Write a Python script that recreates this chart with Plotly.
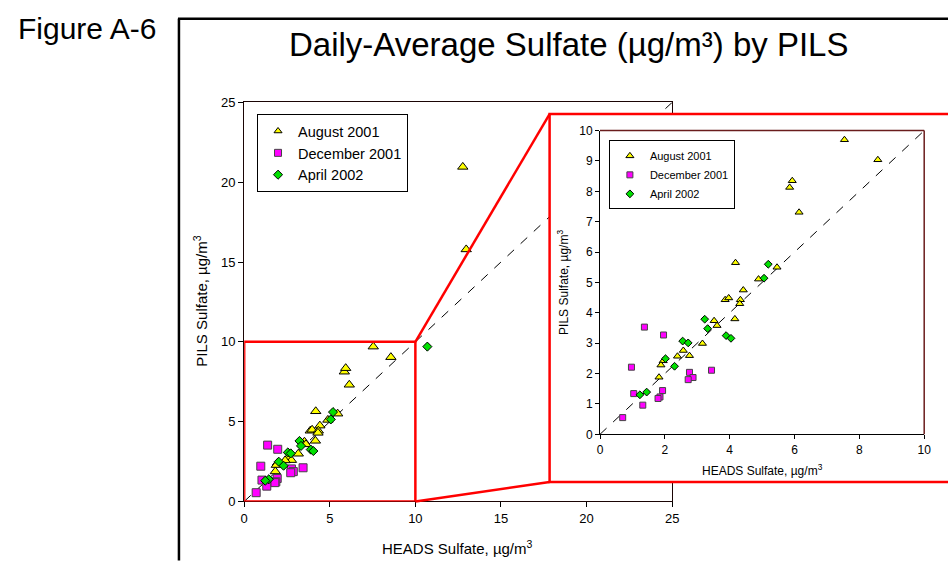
import plotly.graph_objects as go

# ---------------- data ----------------
series_names = ["August 2001", "December 2001", "April 2002"]

aug_x = [7.54, 8.57, 5.85, 5.93, 6.14, 4.18, 5.46, 4.89, 4.42, 3.86, 3.97, 4.33, 4.31,
         4.16, 3.52, 3.61, 3.16, 2.57, 2.76, 2.39, 1.95, 1.88, 1.82, 12.77, 12.97]
aug_y = [9.70, 9.04, 8.13, 8.35, 7.31, 5.65, 5.50, 5.11, 4.75, 4.43, 4.49, 4.43, 4.30,
         3.80, 3.74, 3.58, 2.99, 2.76, 2.59, 2.57, 2.42, 2.28, 1.88, 20.96, 15.79]

dec_x = [1.37, 1.96, 0.97, 2.76, 3.44, 2.87, 2.72, 1.04, 1.93, 1.85, 1.79, 1.32, 0.70]
dec_y = [3.53, 3.27, 2.21, 2.04, 2.11, 1.87, 1.80, 1.34, 1.44, 1.23, 1.18, 0.96, 0.55]

apr_x = [3.23, 3.32, 2.55, 2.72, 3.89, 4.04, 5.19, 5.06, 2.02, 2.30, 1.44, 1.23, 10.70]
apr_y = [3.79, 3.48, 3.07, 3.01, 3.25, 3.16, 5.60, 5.14, 2.49, 2.24, 1.39, 1.30, 9.70]

main_range = [0, 25]
main_ticks = [0, 5, 10, 15, 20, 25]
zoom_range = [0, 10]
inset_xticks = [0, 2, 4, 6, 8, 10]
inset_yticks = list(range(0, 11))

fig_title = "Daily-Average Sulfate (\u00b5g/m\u00b3) by PILS"
fig_label = "Figure A-6"
x_title = "HEADS Sulfate, \u00b5g/m<sup>3</sup>"
y_title = "PILS Sulfate, \u00b5g/m<sup>3</sup>"

# ---------------- layout geometry ----------------
W, H = 948, 563
FONT = "Arial, Liberation Sans, sans-serif"


def px(v):
    return v / W


def py(v):
    return 1 - v / H


main_dom_x = [px(243), px(676)]
main_dom_y = [py(508), py(98)]
inset_dom_x = [px(603), px(931)]
inset_dom_y = [py(439), py(127)]
cover_dom_x = [px(552), 1.0]
cover_dom_y = [py(488), py(110)]


def main_to_paper(x, y):
    fx = (x - main_range[0]) / (main_range[1] - main_range[0])
    fy = (y - main_range[0]) / (main_range[1] - main_range[0])
    return (main_dom_x[0] + fx * (main_dom_x[1] - main_dom_x[0]),
            main_dom_y[0] + fy * (main_dom_y[1] - main_dom_y[0]))


styles = [
    dict(symbol="triangle-up", color="#FFFF00", line=dict(color="#000000", width=1)),
    dict(symbol="square", color="#FF00FF", line=dict(color="#444444", width=1)),
    dict(symbol="diamond", color="#00E000", line=dict(color="#000000", width=1)),
]
main_sizes = [9, 8, 7]
inset_sizes = [7, 6, 6]
legend_sizes_main = [7, 7, 7]

data_sets = [(aug_x, aug_y), (dec_x, dec_y), (apr_x, apr_y)]

fig = go.Figure()

# ----- main plot -----
fig.add_trace(go.Scatter(x=main_range, y=main_range, mode="lines",
                         line=dict(color="#000000", width=1, dash="dash"),
                         showlegend=False, hoverinfo="skip", xaxis="x", yaxis="y"))
for (xs, ys), st, sz, nm in zip(data_sets, styles, main_sizes, series_names):
    fig.add_trace(go.Scatter(x=xs, y=ys, mode="markers", name=nm,
                             marker=dict(symbol=st["symbol"], color=st["color"], size=sz,
                                         line=st["line"]),
                             showlegend=False, xaxis="x", yaxis="y"))
# legend entries for main legend (small symbols)
for st, sz, nm in zip(styles, legend_sizes_main, series_names):
    fig.add_trace(go.Scatter(x=[None], y=[None], mode="markers", name=nm,
                             marker=dict(symbol=st["symbol"], color=st["color"], size=sz,
                                         line=st["line"]),
                             legend="legend", xaxis="x", yaxis="y"))

# ----- white cover behind the inset -----
fig.add_trace(go.Scatter(x=[], y=[], mode="markers", showlegend=False,
                         hoverinfo="skip", xaxis="x2", yaxis="y2"))

# ----- inset plot -----
fig.add_trace(go.Scatter(x=zoom_range, y=zoom_range, mode="lines",
                         line=dict(color="#000000", width=1, dash="dash"),
                         showlegend=False, hoverinfo="skip", xaxis="x3", yaxis="y3"))
for (xs, ys), st, sz, nm in zip(data_sets, styles, inset_sizes, series_names):
    fig.add_trace(go.Scatter(x=xs, y=ys, mode="markers", name=nm,
                             marker=dict(symbol=st["symbol"], color=st["color"], size=sz,
                                         line=st["line"]),
                             legend="legend2", xaxis="x3", yaxis="y3"))

axis_common = dict(showgrid=False, zeroline=False, showline=True, ticks="outside",
                   tickcolor="#000000", fixedrange=True)

fig.update_layout(
    width=W, height=H, autosize=False,
    margin=dict(l=0, r=0, t=0, b=0, pad=0),
    paper_bgcolor="#ffffff", plot_bgcolor="#ffffff",
    font=dict(family=FONT, color="#000000"),
    showlegend=True,
    xaxis=dict(domain=main_dom_x, range=main_range, tickvals=main_ticks,
               linecolor="#1a0505", linewidth=1, mirror=True, ticklen=5,
               tickfont=dict(size=13), anchor="y", **axis_common),
    yaxis=dict(domain=main_dom_y, range=main_range, tickvals=main_ticks,
               linecolor="#1a0505", linewidth=1, mirror=True, ticklen=5,
               tickfont=dict(size=13), anchor="x", **axis_common),
    xaxis2=dict(domain=cover_dom_x, range=[0, 1], visible=False, anchor="y2", fixedrange=True),
    yaxis2=dict(domain=cover_dom_y, range=[0, 1], visible=False, anchor="x2", fixedrange=True),
    xaxis3=dict(domain=inset_dom_x, range=zoom_range, tickvals=inset_xticks,
                linecolor="#000000", linewidth=1, ticklen=4,
                tickfont=dict(size=12), anchor="y3", **axis_common),
    yaxis3=dict(domain=inset_dom_y, range=zoom_range, tickvals=inset_yticks,
                linecolor="#000000", linewidth=1, ticklen=4,
                tickfont=dict(size=12), anchor="x3", **axis_common),
    legend=dict(x=px(256), y=py(110), xanchor="left", yanchor="top",
                bgcolor="#ffffff", bordercolor="#000000", borderwidth=1,
                font=dict(size=14.5), itemwidth=30, tracegroupgap=0),
    legend2=dict(x=px(612), y=py(137), xanchor="left", yanchor="top",
                 bgcolor="#ffffff", bordercolor="#000000", borderwidth=1,
                 font=dict(size=11), itemwidth=30, tracegroupgap=0),
)

# ----- shapes -----
shapes = []
# outer black frame
shapes.append(dict(type="line", xref="paper", yref="paper", x0=px(177), x1=px(177),
                   y0=py(12), y1=-0.01, line=dict(color="#000000", width=2.5)))
shapes.append(dict(type="line", xref="paper", yref="paper", x0=px(176), x1=1.01,
                   y0=py(12), y1=py(12), line=dict(color="#000000", width=2.5)))
# red zoom window on the main chart
shapes.append(dict(type="rect", xref="x", yref="y", x0=zoom_range[0], y0=zoom_range[0],
                   x1=zoom_range[1], y1=zoom_range[1], line=dict(color="#FF0000", width=2.5)))
# red inset frame
shapes.append(dict(type="rect", xref="paper", yref="paper", x0=cover_dom_x[0], x1=1.01,
                   y0=cover_dom_y[0], y1=cover_dom_y[1], line=dict(color="#FF0000", width=2.5)))
# connector lines
tlx, tly = main_to_paper(zoom_range[1], zoom_range[1])
blx, bly = main_to_paper(zoom_range[1], zoom_range[0])
shapes.append(dict(type="line", xref="paper", yref="paper", x0=tlx, y0=tly,
                   x1=cover_dom_x[0], y1=cover_dom_y[1], line=dict(color="#FF0000", width=2.5)))
shapes.append(dict(type="line", xref="paper", yref="paper", x0=blx, y0=bly,
                   x1=cover_dom_x[0], y1=cover_dom_y[0], line=dict(color="#FF0000", width=2.5)))
# inset top / right plot border (dark red-brown)
shapes.append(dict(type="line", xref="paper", yref="paper", x0=inset_dom_x[0], x1=inset_dom_x[1],
                   y0=inset_dom_y[1], y1=inset_dom_y[1], line=dict(color="#6a1c1c", width=1.5)))
shapes.append(dict(type="line", xref="paper", yref="paper", x0=inset_dom_x[1], x1=inset_dom_x[1],
                   y0=inset_dom_y[0], y1=inset_dom_y[1], line=dict(color="#6a1c1c", width=1.5)))
fig.update_layout(shapes=shapes)

# ----- text -----
ann = []
ann.append(dict(text=fig_label, xref="paper", yref="paper", x=px(12), y=py(22),
                xanchor="left", yanchor="middle", showarrow=False,
                font=dict(size=30, family=FONT)))
ann.append(dict(text=fig_title, xref="paper", yref="paper", x=px(571), y=py(39),
                xanchor="center", yanchor="middle", showarrow=False,
                font=dict(size=33, family=FONT)))
ann.append(dict(text=x_title, xref="paper", yref="paper", x=px(459), y=py(555),
                xanchor="center", yanchor="middle", showarrow=False,
                font=dict(size=15, family=FONT)))
ann.append(dict(text=y_title, xref="paper", yref="paper", x=px(199), y=py(302),
                xanchor="center", yanchor="middle", showarrow=False, textangle=-90,
                font=dict(size=15, family=FONT)))
ann.append(dict(text=x_title, xref="paper", yref="paper", x=px(767), y=py(476),
                xanchor="center", yanchor="middle", showarrow=False,
                font=dict(size=12, family=FONT)))
ann.append(dict(text=y_title, xref="paper", yref="paper", x=px(566), y=py(283),
                xanchor="center", yanchor="middle", showarrow=False, textangle=-90,
                font=dict(size=12, family=FONT)))
fig.update_layout(annotations=ann)

fig.write_html("out.html",
               post_script="document.body.style.margin='0';document.body.style.overflow='hidden';")
